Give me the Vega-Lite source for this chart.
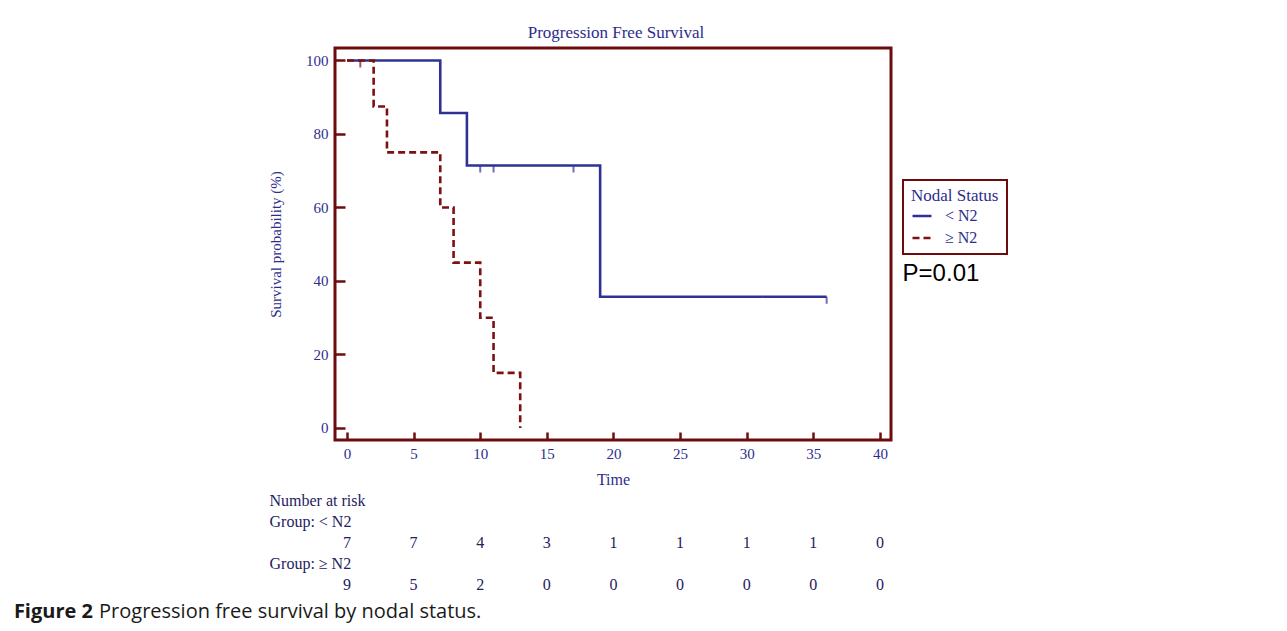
{
  "$schema": "https://vega.github.io/schema/vega-lite/v6.json",
  "width": 556,
  "height": 392,
  "autosize": {"type": "none"},
  "padding": {"left": 335, "top": 48, "right": 396, "bottom": 191},
  "background": "white",
  "title": {"text": "Progression Free Survival", "anchor": "middle", "frame": "group", "font": "Liberation Serif", "fontSize": 17, "fontWeight": "normal", "color": "#2d2d8c", "offset": 6, "dx": 3},
  "config": {"view": {"stroke": "#6d0c0c", "strokeWidth": 3}, "font": "Liberation Serif", "legend": {"strokeWidth": 2}},
  "datasets": {
    "survival": [
      {"group": "< N2", "time": 0, "survival": 100},
      {"group": "< N2", "time": 7, "survival": 85.71},
      {"group": "< N2", "time": 9, "survival": 71.43},
      {"group": "< N2", "time": 19, "survival": 35.71},
      {"group": "< N2", "time": 36, "survival": 35.71},
      {"group": "≥ N2", "time": 0, "survival": 100},
      {"group": "≥ N2", "time": 2, "survival": 87.5},
      {"group": "≥ N2", "time": 3, "survival": 75},
      {"group": "≥ N2", "time": 7, "survival": 60},
      {"group": "≥ N2", "time": 8, "survival": 45},
      {"group": "≥ N2", "time": 10, "survival": 30},
      {"group": "≥ N2", "time": 11, "survival": 15},
      {"group": "≥ N2", "time": 13, "survival": 0}
    ],
    "censored": [
      {"group": "< N2", "time": 10, "survival": 71.43},
      {"group": "< N2", "time": 11, "survival": 71.43},
      {"group": "< N2", "time": 17, "survival": 71.43},
      {"group": "< N2", "time": 36, "survival": 35.71},
      {"group": "≥ N2", "time": 1, "survival": 100}
    ],
    "atrisk": [
      {"group": "< N2", "time": 0, "n": 7},
      {"group": "< N2", "time": 5, "n": 7},
      {"group": "< N2", "time": 10, "n": 4},
      {"group": "< N2", "time": 15, "n": 3},
      {"group": "< N2", "time": 20, "n": 1},
      {"group": "< N2", "time": 25, "n": 1},
      {"group": "< N2", "time": 30, "n": 1},
      {"group": "< N2", "time": 35, "n": 1},
      {"group": "< N2", "time": 40, "n": 0},
      {"group": "≥ N2", "time": 0, "n": 9},
      {"group": "≥ N2", "time": 5, "n": 5},
      {"group": "≥ N2", "time": 10, "n": 2},
      {"group": "≥ N2", "time": 15, "n": 0},
      {"group": "≥ N2", "time": 20, "n": 0},
      {"group": "≥ N2", "time": 25, "n": 0},
      {"group": "≥ N2", "time": 30, "n": 0},
      {"group": "≥ N2", "time": 35, "n": 0},
      {"group": "≥ N2", "time": 40, "n": 0}
    ]
  },
  "layer": [
    {
      "layer": [
        {
          "data": {"name": "survival"},
          "mark": {"type": "line", "interpolate": "step-after", "strokeWidth": 2.6},
          "encoding": {
            "x": {"field": "time", "type": "quantitative",
              "scale": {"domain": [-0.9, 40.83], "nice": false, "zero": false},
              "axis": {"values": [0, 5, 10, 15, 20, 25, 30, 35, 40], "domain": false, "grid": false,
                "tickSize": -8, "tickWidth": 2.5, "tickColor": "#6d0c0c",
                "labelFont": "Liberation Serif", "labelFontSize": 15, "labelColor": "#2d2d8c", "labelPadding": 14, "labelFlush": false,
                "title": "Time", "titleFont": "Liberation Serif", "titleFontSize": 16, "titleFontWeight": "normal", "titleColor": "#2d2d8c", "titlePadding": 10}},
            "y": {"field": "survival", "type": "quantitative",
              "scale": {"domain": [-3.27, 103.4], "nice": false, "zero": false},
              "axis": {"values": [0, 10, 20, 30, 40, 50, 60, 70, 80, 90, 100], "domain": false, "grid": false,
                "tickSize": {"condition": {"test": "datum.value % 20 === 0", "value": -10}, "value": -5},
                "tickWidth": 2.5, "tickColor": "#6d0c0c",
                "labelExpr": "datum.value % 20 === 0 ? datum.label : ''",
                "labelFont": "Liberation Serif", "labelFontSize": 15, "labelColor": "#2d2d8c", "labelPadding": 17,
                "title": "Survival probability (%)", "titleFont": "Liberation Serif", "titleFontSize": 15, "titleFontWeight": "normal", "titleColor": "#2d2d8c", "titlePadding": 22}},
            "color": {"field": "group", "type": "nominal", "title": "Nodal Status",
              "scale": {"domain": ["< N2", "≥ N2"], "range": ["#2f3293", "#7d1010"]},
              "legend": {"orient": "none", "legendX": 568, "legendY": 132, "strokeColor": "#6d0c0c", "padding": 8,
                "titleFont": "Liberation Serif", "titleFontSize": 17, "titleFontWeight": "normal", "titleColor": "#2d2d8c", "titlePadding": 0,
                "labelFont": "Liberation Serif", "labelFontSize": 16, "labelColor": "#2d2d8c", "labelOffset": 12,
                "rowPadding": 3,
                "symbolType": "stroke", "symbolSize": 361, "symbolStrokeWidth": 2.6}},
            "strokeDash": {"field": "group", "type": "nominal", "title": "Nodal Status",
              "scale": {"domain": ["< N2", "≥ N2"], "range": [[1, 0], [7, 4]]},
              "legend": {"orient": "none", "legendX": 568, "legendY": 132, "strokeColor": "#6d0c0c", "padding": 8,
                "titleFont": "Liberation Serif", "titleFontSize": 17, "titleFontWeight": "normal", "titleColor": "#2d2d8c", "titlePadding": 0,
                "labelFont": "Liberation Serif", "labelFontSize": 16, "labelColor": "#2d2d8c", "labelOffset": 12,
                "rowPadding": 3,
                "symbolType": "stroke", "symbolSize": 361, "symbolStrokeWidth": 2.6}}
          }
        },
        {
          "data": {"name": "censored"},
          "mark": {"type": "tick", "orient": "vertical", "size": 7, "thickness": 2, "yOffset": 3.5},
          "encoding": {
            "x": {"field": "time", "type": "quantitative"},
            "y": {"field": "survival", "type": "quantitative"},
            "fill": {"field": "group", "type": "nominal", "scale": {"domain": ["< N2", "≥ N2"], "range": ["#2f3293", "#7d1010"]}, "legend": null}
          }
        },
        {
          "data": {"values": [{"label": "P=0.01"}]},
          "mark": {"type": "text", "align": "left", "baseline": "middle", "font": "Liberation Sans", "fontSize": 24, "color": "black"},
          "encoding": {
            "x": {"datum": 41.7, "type": "quantitative"},
            "y": {"datum": 42.0, "type": "quantitative"},
            "text": {"field": "label"}
          }
        },
        {
          "data": {"values": [{"label": "Figure 2"}]},
          "mark": {"type": "text", "align": "left", "baseline": "middle", "font": "Open Sans", "fontSize": 20, "fontWeight": "bold", "color": "#1a1a1a"},
          "encoding": {
            "x": {"datum": -25, "type": "quantitative"},
            "y": {"datum": -50.1, "type": "quantitative"},
            "text": {"field": "label"}
          }
        },
        {
          "data": {"values": [{"label": "Progression free survival by nodal status."}]},
          "mark": {"type": "text", "align": "left", "baseline": "middle", "font": "Open Sans", "fontSize": 20, "fontWeight": "normal", "color": "#1a1a1a"},
          "encoding": {
            "x": {"datum": -18.61, "type": "quantitative"},
            "y": {"datum": -50.1, "type": "quantitative"},
            "text": {"field": "label"}
          }
        }
      ]
    },
    {
      "data": {"name": "atrisk"},
      "mark": {"type": "text", "fontSize": 16, "color": "#1e2160", "font": "Liberation Serif", "baseline": "middle", "align": "center"},
      "encoding": {
        "x": {"field": "time", "type": "quantitative", "scale": {"domain": [-0.9, 40.83], "nice": false, "zero": false}},
        "y": {"field": "group", "type": "nominal",
          "scale": {"type": "point", "domain": ["Number at risk", "Group: < N2", "< N2", "Group: ≥ N2", "≥ N2"], "range": [452, 537], "padding": 0},
          "axis": {"orient": "left", "title": null, "domain": false, "ticks": false, "grid": false,
            "labelAlign": "left", "labelPadding": 66, "labelBaseline": "middle",
            "labelExpr": "datum.value === 'Number at risk' || indexof(datum.value, 'Group') === 0 ? datum.value : ''",
            "labelFont": "Liberation Serif", "labelFontSize": 16, "labelColor": "#1e2160"}},
        "text": {"field": "n", "type": "quantitative"}
      }
    }
  ],
  "resolve": {"scale": {"y": "independent"}}
}
